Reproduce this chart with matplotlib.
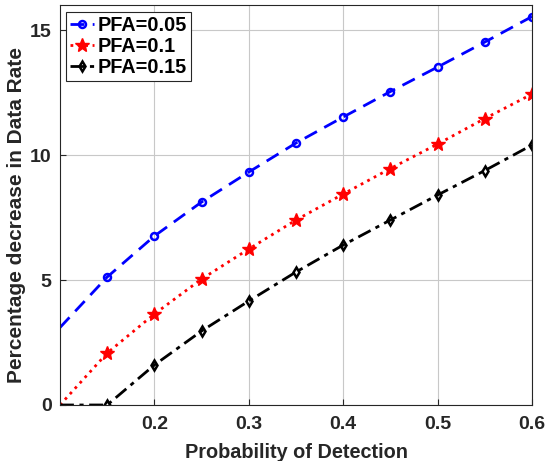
import matplotlib
matplotlib.use("Agg")
import matplotlib.pyplot as plt

# values
pd_vals = [0.1, 0.15, 0.2, 0.25, 0.3, 0.35, 0.4, 0.45, 0.5, 0.55, 0.6]
pfa_005 = [3.1, 5.12, 6.76, 8.12, 9.32, 10.48, 11.52, 12.54, 13.52, 14.52, 15.54]
pfa_01 = [0.0, 2.08, 3.64, 5.04, 6.24, 7.4, 8.44, 9.46, 10.44, 11.46, 12.44]
pfa_015 = [0.0, 0.0, 1.6, 2.96, 4.16, 5.32, 6.4, 7.4, 8.4, 9.38, 10.4]
labels = ['PFA=0.05', 'PFA=0.1', 'PFA=0.15']

plt.rcParams['font.family'] = ['Liberation Sans', 'DejaVu Sans']
plt.rcParams['font.weight'] = 'bold'

fig = plt.figure(figsize=(5.48, 4.61), dpi=100)
ax = fig.add_axes([0.1095, 0.1215, 0.8613, 0.8675])

# first point sits on the axis edge, no marker drawn there
mk = slice(1, None)
ax.plot(pd_vals, pfa_005, '--o', color='blue', lw=2, ms=5, mfc='none', mew=1.8,
        dashes=(5, 3), markevery=mk, label=labels[0])
ax.plot(pd_vals, pfa_01, ':*', color='red', lw=2, ms=10, markevery=mk, label=labels[1])
ax.plot(pd_vals, pfa_015, '-.d', color='black', lw=2, ms=5, mfc='none', mew=1.8,
        dashes=(5, 2, 1.5, 2), markevery=mk, label=labels[2])

ax.set_xlim(0.1, 0.6)
ax.set_ylim(0, 16)
ax.set_xticks([0.2, 0.3, 0.4, 0.5, 0.6])
ax.set_yticks([0, 5, 10, 15])
ax.set_xticklabels(['0.2', '0.3', '0.4', '0.5', '0.6'])
ax.grid(True, color='#c8c8c8', lw=0.8)
ax.set_axisbelow(True)
ax.tick_params(direction='in', labelsize=14, colors='#262626', length=4)
ax.tick_params(axis='x', pad=8)
ax.tick_params(axis='y', pad=6)
for s in ax.spines.values():
    s.set_color('#262626')
    s.set_linewidth(0.8)

ax.set_xlabel('Probability of Detection', fontsize=14.3, fontweight='bold', color='#262626', labelpad=7)
ax.set_ylabel('Percentage decrease in Data Rate', fontsize=15, fontweight='bold', color='#262626')
ax.yaxis.set_label_coords(-0.072, 0.475)

leg = ax.legend(loc='upper left', bbox_to_anchor=(0.012, 0.982), fontsize=14.3, handlelength=1.25,
                handletextpad=0.15, borderaxespad=0.0, borderpad=0.2, labelspacing=0.1,
                fancybox=False, framealpha=1, edgecolor='#262626')
leg.get_frame().set_linewidth(0.8)

fig.savefig('out.png', dpi=100)
